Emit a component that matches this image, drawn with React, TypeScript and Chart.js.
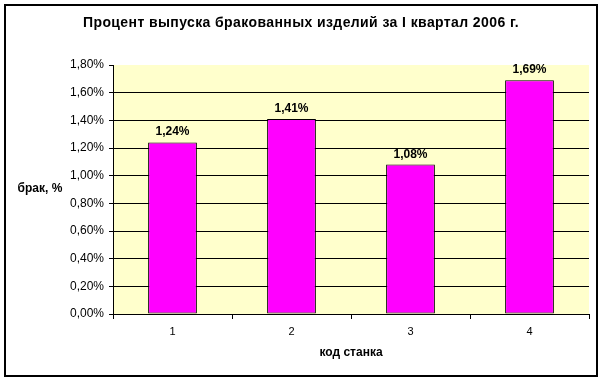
import React, { useEffect, useRef } from "react";
import { Chart, registerables } from "chart.js";

Chart.register(...registerables);

const titleText = "Процент выпуска бракованных изделий за I квартал 2006 г.";
const categories = ["1", "2", "3", "4"];
const values = [1.24, 1.41, 1.08, 1.69];
const yAxisTitle = "брак, %";
const xAxisTitle = "код станка";

const fmt = (v: number) => v.toFixed(2).replace(".", ",") + "%";

const decorPlugin = {
  id: "decor",
  beforeDraw(chart: any) {
    const { ctx, chartArea } = chart;
    ctx.save();
    ctx.fillStyle = "#ffffff";
    ctx.fillRect(0, 0, chart.width, chart.height);
    ctx.fillStyle = "#FFFFCC";
    ctx.fillRect(chartArea.left, chartArea.top, chartArea.right - chartArea.left, chartArea.bottom - chartArea.top);
    ctx.restore();
  },
  afterDraw(chart: any) {
    const { ctx, chartArea } = chart;
    ctx.save();
    ctx.strokeStyle = "#000";
    ctx.lineWidth = 2;
    ctx.strokeRect(5, 5, 592, 371);
    ctx.fillStyle = "#000";
    ctx.textAlign = "center";
    ctx.textBaseline = "middle";
    ctx.font = "bold 14px Arial, 'Liberation Sans', sans-serif";
    (ctx as any).letterSpacing = "0.4px";
    ctx.fillText(titleText, 301, 23);
    (ctx as any).letterSpacing = "0px";
    ctx.font = "bold 12px Arial, 'Liberation Sans', sans-serif";
    ctx.fillText(xAxisTitle, (chartArea.left + chartArea.right) / 2, 353);
    ctx.fillText(yAxisTitle, 40, 189);
    // data labels
    const meta = chart.getDatasetMeta(0);
    ctx.textBaseline = "alphabetic";
    meta.data.forEach((bar: any, i: number) => {
      ctx.fillText(fmt(values[i]), bar.x, bar.y - 7);
    });
    ctx.restore();
  },
};

export default function App() {
  const ref = useRef<HTMLCanvasElement>(null);
  useEffect(() => {
    document.body.style.margin = "0";
    const chart = new Chart(ref.current as HTMLCanvasElement, {
      type: "bar",
      data: {
        labels: categories,
        datasets: [
          {
            data: values,
            backgroundColor: "#FF00FF",
            borderColor: "#000000",
            borderWidth: 1,
            borderSkipped: false,
            barPercentage: 0.41,
            categoryPercentage: 1,
          },
        ],
      },
      options: {
        animation: false,
        responsive: false,
        devicePixelRatio: 1,
        layout: { padding: { top: 65, right: 14, left: 10, bottom: 10 } },
        plugins: { legend: { display: false }, title: { display: false }, tooltip: { enabled: false } },
        scales: {
          x: {
            offset: true,
            grid: { display: true, drawOnChartArea: false, drawTicks: true, tickLength: 5, color: "#000", offset: true },
            border: { display: true, color: "#000", width: 1 },
            ticks: { color: "#000", font: { family: "Arial", size: 11 }, padding: 6 },
            afterFit(scale: any) {
              scale.height = 380 - 314 - 10;
            },
          },
          y: {
            min: 0,
            max: 1.8,
            ticks: {
              stepSize: 0.2,
              color: "#000",
              font: { family: "Arial", size: 12 },
              padding: 5,
              callback: (v: any) => fmt(Number(v)),
            },
            grid: {
              color: (c: any) => (c.tick && c.tick.value >= 1.79 ? "rgba(0,0,0,0)" : "#000"),
              tickColor: "#000",
              tickLength: 4,
              lineWidth: 1,
            },
            border: { display: true, color: "#000", width: 1 },
            afterFit(scale: any) {
              scale.width = 113 - 10;
            },
          },
        },
      },
      plugins: [decorPlugin],
    });
    return () => chart.destroy();
  }, []);
  return <canvas ref={ref} width={603} height={380} style={{ display: "block" }} />;
}
